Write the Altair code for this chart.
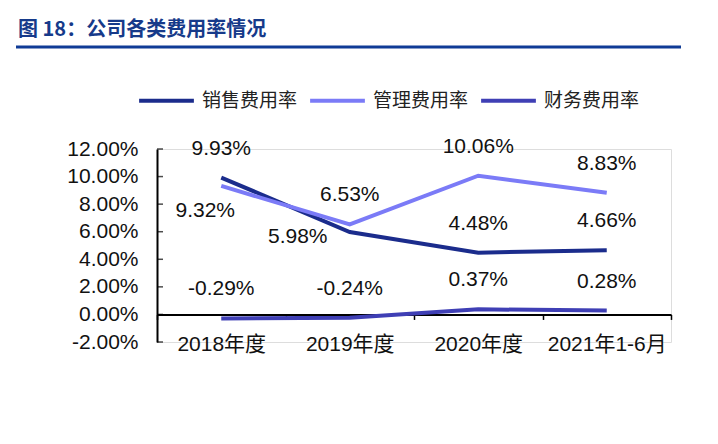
import altair as alt
import pandas as pd

categories = ["2018年度", "2019年度", "2020年度", "2021年1-6月"]
series_names = ["销售费用率", "管理费用率", "财务费用率"]
sales_rate = [9.93, 5.98, 4.48, 4.66]
admin_rate = [9.32, 6.53, 10.06, 8.83]
finance_rate = [-0.29, -0.24, 0.37, 0.28]
y_ticks = [-2, 0, 2, 4, 6, 8, 10, 12]
colors = ["#1B2C8C", "#7B7BF7", "#3F3FB5"]

rows = []
for name, vals in zip(series_names, [sales_rate, admin_rate, finance_rate]):
    for c, v in zip(categories, vals):
        rows.append({"cat": c, "series": name, "value": v / 100.0,
                     "label": f"{v:.2f}%"})
df = pd.DataFrame(rows)
tick_df = pd.DataFrame({"value": [t / 100 for t in y_ticks]})

NUM_FONT = "Liberation Sans"
CJK_FONT = "Noto Sans CJK SC"
MIX_FONT = "Liberation Sans, Noto Sans CJK SC"

x_enc = alt.X("cat:N", sort=categories,
              scale=alt.Scale(paddingInner=0, paddingOuter=0),
              axis=alt.Axis(title=None, labelAngle=0, labelFont=MIX_FONT,
                            labelFontSize=21, labelColor="#111111",
                            domainColor="#000000", domainWidth=2,
                            tickColor="#000000", tickWidth=1.5, tickSize=5,
                            tickBand="extent", labelPadding=14,
                            offset=-27.57))
y_enc = alt.Y("value:Q",
              scale=alt.Scale(domain=[-0.02, 0.12], nice=False, zero=False),
              axis=alt.Axis(title=None, values=[t / 100 for t in y_ticks],
                            labelExpr="replace(format(datum.value, '.2%'), '\u2212', '-')",
                            grid=False, ticks=False, labelOverlap=False,
                            labelSeparation=0, labelBound=False,
                            labelFont=NUM_FONT, labelFontSize=21,
                            labelColor="#111111", labelPadding=19,
                            domainColor="#000000", domainWidth=2))

color_enc = alt.Color("series:N", sort=series_names,
                      scale=alt.Scale(domain=series_names, range=colors),
                      legend=alt.Legend(title=None, orient="none",
                                        direction="horizontal",
                                        legendX=-20, legendY=-78,
                                        symbolType="stroke",
                                        symbolSize=3000,
                                        symbolStrokeWidth=4,
                                        labelFont=CJK_FONT, labelFontSize=19,
                                        labelColor="#222222", labelOffset=6,
                                        columnPadding=4, padding=0))

base = alt.Chart(df)

lines = base.mark_line(strokeWidth=4, strokeCap="butt").encode(
    x=x_enc, y=y_enc, color=color_enc)

txt = dict(font=NUM_FONT, fontSize=21, color="#111111", baseline="middle",
           align="center")

is_932 = (alt.datum.series == "管理费用率") & (alt.datum.cat == "2018年度")
is_598 = (alt.datum.series == "销售费用率") & (alt.datum.cat == "2019年度")

labels_main = base.transform_filter(~(is_932 | is_598)).mark_text(
    dy=-29, **txt).encode(x=x_enc, y=y_enc, text="label:N")
labels_932 = base.transform_filter(is_932).mark_text(
    dy=25, dx=-16, **txt).encode(x=x_enc, y=y_enc, text="label:N")
labels_598 = base.transform_filter(is_598).mark_text(
    dy=5, dx=-52, **txt).encode(x=x_enc, y=y_enc, text="label:N")

# small inward tick marks on the y axis
yticks = alt.Chart(tick_df).mark_tick(
    orient="horizontal", size=6, thickness=1.5, color="#000000").encode(
    y=y_enc, x=alt.value(3))

title_df = pd.DataFrame({"t": ["图 18：公司各类费用率情况"]})
title = alt.Chart(title_df).mark_text(
    font=CJK_FONT, fontSize=20, fontWeight="bold", color="#163A8A",
    align="left", baseline="middle").encode(
    x=alt.value(-139), y=alt.value(-119), text="t:N")

underline = alt.Chart(title_df).mark_rule(color="#0F3B96", strokeWidth=3).encode(
    x=alt.value(-141), x2=alt.value(555), y=alt.value(-102))

chart = alt.layer(lines, labels_main, labels_932, labels_598, yticks, title,
                  underline).properties(
    width=514, height=193,
    autosize=alt.AutoSizeParams(type="none"),
    padding={"left": 149, "top": 141, "right": 10, "bottom": 80},
).configure_view(strokeOpacity=0).configure(background="white").configure_axisY(
    labelOverlap=False)

chart.save("out.html", embed_options={"renderer": "svg", "actions": False})
